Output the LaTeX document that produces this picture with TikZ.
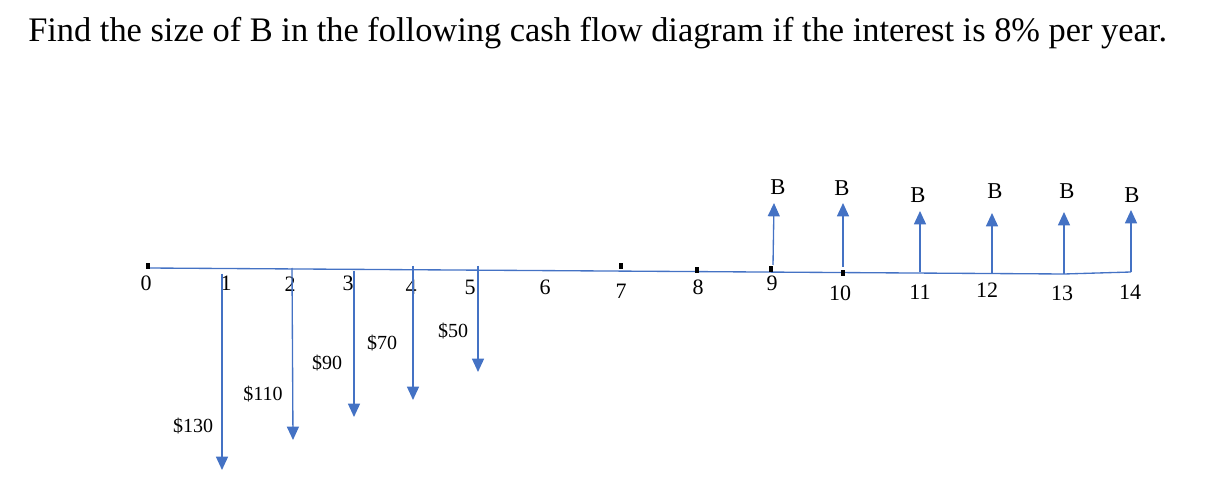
\documentclass[tikz,border=0pt]{standalone}
\usepackage{fontspec}
\setmainfont{Liberation Serif}
\usetikzlibrary{arrows.meta}
\definecolor{bleu}{HTML}{4472C4}

\begin{document}
\begin{tikzpicture}[x=0.75pt,y=-0.75pt]
 % style des noeuds
  \tikzstyle{titre}=[anchor=base west,inner sep=0,font=\fontsize{25.8}{30}\selectfont]
  \tikzstyle{annee}=[inner sep=0,font=\fontsize{16.5}{18}\selectfont]
  \tikzstyle{montant}=[inner sep=0,font=\fontsize{15}{17}\selectfont]
  \tikzstyle{recette}=[inner sep=0,font=\fontsize{17}{19}\selectfont]
  \tikzstyle{repere}=[rectangle,fill=black,inner sep=0,minimum width=3.5pt,minimum height=5pt]
 % style des fleches
  \tikzstyle{axe}=[draw=bleu,line width=1pt]
  \tikzstyle{flux}=[-{Triangle[length=10pt,width=9pt]},draw=bleu,fill=bleu,line width=1pt]
  \useasboundingbox (0,0) rectangle (1220,488);
 % titre
  \node[titre] (enonce) at (28,42) {Find the size of B in the following cash flow diagram if the interest is 8\% per year.};
 % axe du temps
  \coordinate (a0) at (148,268);
  \coordinate (a13) at (1064,274);
  \coordinate (a14) at (1131,272);
  \draw[axe] (a0) -- (a13) -- (a14);
  \node[repere] (k0) at (148,266) {};
  \node[repere] (k7) at (621,266) {};
  \node[repere] (k8) at (697,270) {};
  \node[repere] (k9) at (771,269) {};
  \node[repere] (k10) at (843,273) {};
 % placement des annees
  \node[annee] (n0) at (146,283) {0};
  \node[annee] (n1) at (226,283) {1};
  \node[annee] (n2) at (290,284) {2};
  \node[annee] (n3) at (348,283) {3};
  \node[annee] (n4) at (411,287) {4};
  \node[annee] (n5) at (470,287) {5};
  \node[annee] (n6) at (545,287) {6};
  \node[annee] (n7) at (621,291) {7};
  \node[annee] (n8) at (698,287) {8};
  \node[annee] (n9) at (772,283) {9};
  \node[annee] (n10) at (840,293) {10};
  \node[annee] (n11) at (920,292) {11};
  \node[annee] (n12) at (987,290) {12};
  \node[annee] (n13) at (1062,293) {13};
  \node[annee] (n14) at (1130,292) {14};
 % depenses
  \coordinate (h1) at (222,274);  \coordinate (b1) at (222,470);
  \coordinate (h2) at (292,268);  \coordinate (b2) at (293,440);
  \coordinate (h3) at (354,271);  \coordinate (b3) at (354,417);
  \coordinate (h4) at (413,266);  \coordinate (b4) at (413,400);
  \coordinate (h5) at (478,266);  \coordinate (b5) at (478,372);
  \draw[flux] (h1) -- (b1);
  \draw[flux] (h2) -- (b2);
  \draw[flux] (h3) -- (b3);
  \draw[flux] (h4) -- (b4);
  \draw[flux] (h5) -- (b5);
  \node[montant] (m1) at (193,426) {\$130};
  \node[montant] (m2) at (263,394) {\$110};
  \node[montant] (m3) at (327,363) {\$90};
  \node[montant] (m4) at (382,343) {\$70};
  \node[montant] (m5) at (453,331) {\$50};
 % recettes
  \coordinate (p9) at (773,265);   \coordinate (q9) at (774,203);
  \coordinate (p10) at (843,267);  \coordinate (q10) at (843,203);
  \coordinate (p11) at (920,272);  \coordinate (q11) at (920,211);
  \coordinate (p12) at (992,273);  \coordinate (q12) at (992,213);
  \coordinate (p13) at (1064,274); \coordinate (q13) at (1064,212);
  \coordinate (p14) at (1131,272); \coordinate (q14) at (1131,210);
  \draw[flux] (p9) -- (q9);
  \draw[flux] (p10) -- (q10);
  \draw[flux] (p11) -- (q11);
  \draw[flux] (p12) -- (q12);
  \draw[flux] (p13) -- (q13);
  \draw[flux] (p14) -- (q14);
  \node[recette] (r9) at (778,187) {B};
  \node[recette] (r10) at (842,188) {B};
  \node[recette] (r11) at (918,195) {B};
  \node[recette] (r12) at (995,191) {B};
  \node[recette] (r13) at (1067,191) {B};
  \node[recette] (r14) at (1132,195) {B};
\end{tikzpicture}
\end{document}
